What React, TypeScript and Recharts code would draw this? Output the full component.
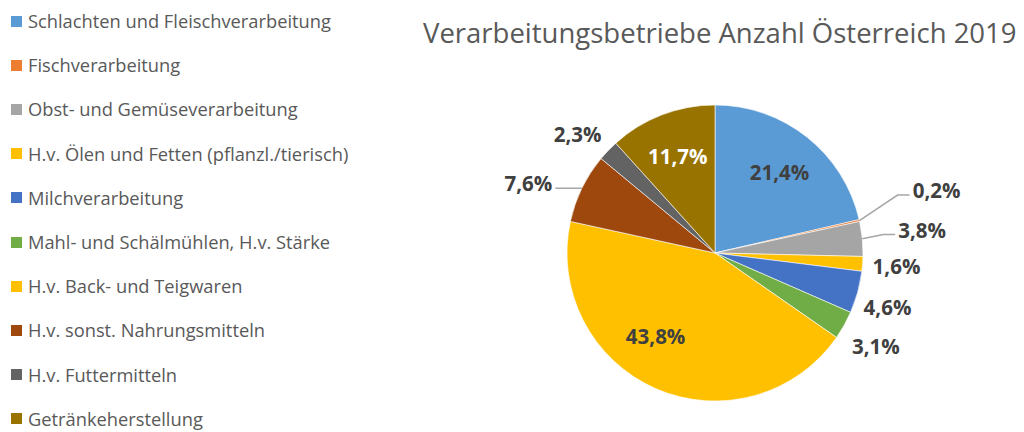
import { PieChart, Pie, Cell } from "recharts";

const CATEGORIES = [
  "Schlachten und Fleischverarbeitung",
  "Fischverarbeitung",
  "Obst- und Gemüseverarbeitung",
  "H.v. Ölen und Fetten (pflanzl./tierisch)",
  "Milchverarbeitung",
  "Mahl- und Schälmühlen, H.v. Stärke",
  "H.v. Back- und Teigwaren",
  "H.v. sonst. Nahrungsmitteln",
  "H.v. Futtermitteln",
  "Getränkeherstellung",
];

const SHARES = [21.4, 0.2, 3.8, 1.6, 4.6, 3.1, 43.8, 7.6, 2.3, 11.7];

const COLORS = [
  "#5B9BD5",
  "#ED7D31",
  "#A5A5A5",
  "#FFC000",
  "#4472C4",
  "#70AD47",
  "#FFC000",
  "#9E480E",
  "#636363",
  "#997300",
];

const TITLE = "Verarbeitungsbetriebe Anzahl Österreich 2019";

// how each data label is placed (inside / outside / outside with leader line)
const LABEL_MODE = ["in", "lead", "lead", "out", "out", "out", "in", "lead", "out", "in"];
const LABEL_NUDGE: Record<number, [number, number]> = {
  1: [44, -23],
  2: [26, -6],
  4: [-3, 6],
  5: [2, 4],
  6: [-18, -12],
  7: [-23, 10],
  8: [-6, 7],
};

const chartData = CATEGORIES.map((name, i) => ({ name, value: SHARES[i] }));

const RADIAN = Math.PI / 180;
const FONT = "'Open Sans', 'Noto Sans', sans-serif";

const renderLabel = (props: any) => {
  const { cx, cy, midAngle, outerRadius, index, value } = props;
  const mode = LABEL_MODE[index];
  const cos = Math.cos(-midAngle * RADIAN);
  const sin = Math.sin(-midAngle * RADIAN);
  const r = mode === "in" ? outerRadius * 0.7 : outerRadius + 34;
  const [ndx, ndy] = LABEL_NUDGE[index] || [0, 0];
  const x = cx + r * cos + ndx;
  const y = cy + r * sin + ndy;
  const text = value.toFixed(1).replace(".", ",") + "%";
  const fill = index === 9 ? "#ffffff" : "#404040";

  let line = null;
  if (mode === "lead") {
    const sx = cx + outerRadius * cos;
    const sy = cy + outerRadius * sin;
    const half = 24;
    const right = cos >= 0;
    const ex = right ? x - half - 3 : x + half + 3;
    const ey = y + 5;
    const mx = right ? ex - 12 : ex + 22;
    line = (
      <polyline
        points={`${sx},${sy} ${mx},${ey} ${ex},${ey}`}
        fill="none"
        stroke="#A6A6A6"
        strokeWidth={1.5}
      />
    );
  }

  return (
    <g>
      {line}
      <text
        x={x}
        y={y}
        fill={fill}
        textAnchor="middle"
        dominantBaseline="central"
        fontFamily={FONT}
        fontWeight="bold"
        fontSize={20.5}
      >
        {text}
      </text>
    </g>
  );
};

export default function App() {
  return (
    <div
      style={{
        position: "absolute",
        left: 0,
        top: 0,
        width: 1024,
        height: 432,
        background: "#fff",
        fontFamily: FONT,
        color: "#595959",
      }}
    >
      <div
        style={{
          position: "absolute",
          left: 423,
          top: 13,
          fontSize: 27.5,
          lineHeight: "40px",
          whiteSpace: "nowrap",
        }}
      >
        {TITLE}
      </div>

      <div style={{ position: "absolute", left: 11, top: 0 }}>
        {CATEGORIES.map((name, i) => (
          <div
            key={name}
            style={{
              position: "absolute",
              top: 21 + i * 44.2 - 10,
              height: 20,
              lineHeight: "20px",
              display: "flex",
              alignItems: "center",
              whiteSpace: "nowrap",
              fontSize: 18.3,
            }}
          >
            <span
              style={{
                width: 11,
                height: 11,
                background: COLORS[i],
                marginRight: 6,
                display: "inline-block",
                flexShrink: 0,
              }}
            />
            <span>{name}</span>
          </div>
        ))}
      </div>

      <div style={{ position: "absolute", left: 0, top: 0 }}>
        <PieChart width={1024} height={432}>
          <Pie
            data={chartData}
            dataKey="value"
            nameKey="name"
            cx={710}
            cy={248}
            outerRadius={148}
            startAngle={90}
            endAngle={-270}
            stroke="#ffffff"
            strokeWidth={0.6}
            label={renderLabel}
            labelLine={false}
            isAnimationActive={false}
          >
            {chartData.map((entry, i) => (
              <Cell key={entry.name} fill={COLORS[i]} />
            ))}
          </Pie>
        </PieChart>
      </div>
    </div>
  );
}
